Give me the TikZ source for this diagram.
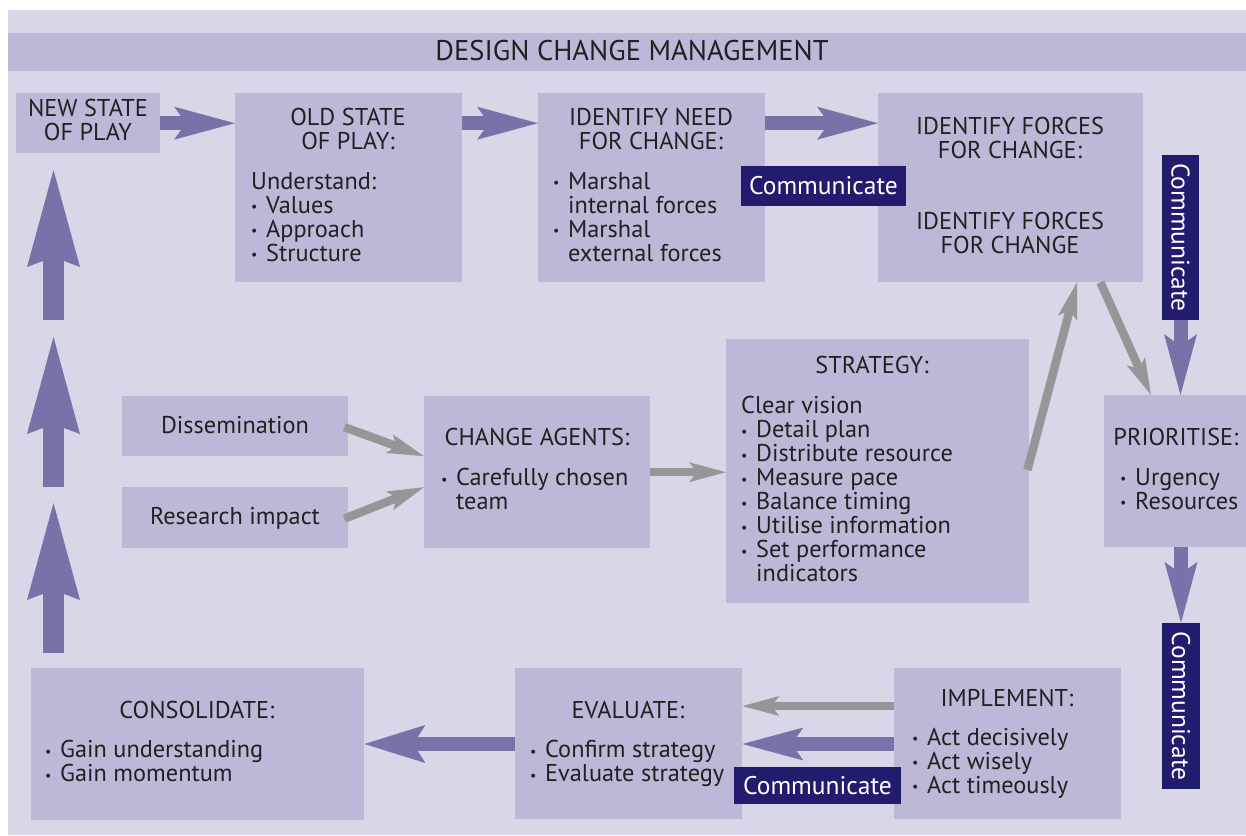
\documentclass[tikz,border=0pt]{standalone}
\usepackage{fontspec}
\setmainfont{PT Sans}
\usetikzlibrary{arrows.meta,calc}
\definecolor{bgc}{HTML}{D8D7E8}
\definecolor{boxc}{HTML}{BCB9D8}
\definecolor{purp}{HTML}{7773A9}
\definecolor{greyc}{HTML}{959698}
\definecolor{navy}{HTML}{221C6E}
\definecolor{txtc}{HTML}{231F20}
\newcommand\bul{\makebox[15pt][l]{\fontsize{14}{14}\selectfont\raisebox{1.5pt}{•}}}
\newcommand\hind{\makebox[15pt]{}}
\newcommand\topst{\rule{0pt}{18pt}}
\begin{document}
\begin{tikzpicture}[x=1pt,y=-1pt,
  box/.style={fill=boxc, draw=none, inner sep=0pt, anchor=north west},
  txt/.style={inner sep=0pt, text=txtc, font=\fontsize{24.3}{24}\selectfont, execute at begin node=\topst},
  head/.style={txt, anchor=north, align=center},
  body/.style={txt, anchor=north west, align=left},
  comm/.style={fill=navy, text=white, inner sep=0pt, font=\fontsize{25.5}{25.5}\selectfont},
  parrow/.style={draw=purp, line width=14pt, -{Stealth[length=61pt,width=33pt,inset=12pt,line width=0pt]}},
  parrowb/.style={draw=purp, line width=14pt, -{Stealth[length=61pt,width=38pt,inset=12pt,line width=0pt]}},
  bigarrow/.style={draw=purp, line width=21pt, -{Stealth[length=97pt,width=53pt,inset=10pt,line width=0pt]}},
  garrow/.style={draw=greyc, line width=8.5pt, -{Stealth[length=37pt,width=20pt,inset=8pt,line width=0pt]}}
]
\useasboundingbox (0,0) rectangle (1246,835);
\fill[bgc] (8,10) rectangle (1246,835);

% title band
\node[box, minimum width=1238pt, minimum height=38pt] (band) at (8,33) {};
\node[inner sep=0pt, text=txtc, font=\fontsize{28.5}{28.5}\selectfont] (title) at (632,51) {DESIGN CHANGE MANAGEMENT};

% boxes
\node[box, minimum width=144pt, minimum height=60pt]  (new)    at (16,93)   {};
\node[box, minimum width=227pt, minimum height=189pt] (old)    at (235,93)  {};
\node[box, minimum width=227pt, minimum height=189pt] (need)   at (538,93)  {};
\node[box, minimum width=265pt, minimum height=189pt] (forces) at (878,93)  {};
\node[box, minimum width=226pt, minimum height=60pt]  (diss)   at (122,396) {};
\node[box, minimum width=226pt, minimum height=61pt]  (res)    at (122,487) {};
\node[box, minimum width=226pt, minimum height=152pt] (ca)     at (424,396) {};
\node[box, minimum width=303pt, minimum height=264pt] (strat)  at (726,339) {};
\node[box, minimum width=142pt, minimum height=152pt] (prio)   at (1104,395) {};
\node[box, minimum width=333pt, minimum height=152pt] (consol) at (31,668)  {};
\node[box, minimum width=227pt, minimum height=151pt] (eval)   at (515,668) {};
\node[box, minimum width=227pt, minimum height=151pt] (impl)   at (894,668) {};

% texts
\node[head] (tnew) at (88,99) {NEW STATE\\OF PLAY};
\node[head] (told) at (348,108) {OLD STATE\\OF PLAY:};
\node[body] (bold) at (251,172) {Understand:\\\bul Values\\\bul Approach\\\bul Structure};
\node[head] (tneed) at (651,108) {IDENTIFY NEED\\FOR CHANGE:};
\node[body] (bneed) at (553,172) {\bul Marshal\\\hind internal forces\\\bul Marshal\\\hind external forces};
\node[head] (tfor1) at (1010,117) {IDENTIFY FORCES\\FOR CHANGE:};
\node[head] (tfor2) at (1010,212) {IDENTIFY FORCES\\FOR CHANGE};
\node[head] (tstrat) at (872,355) {STRATEGY:};
\node[body] (bstrat) at (741,396) {Clear vision\\\bul Detail plan\\\bul Distribute resource\\\bul Measure pace\\\bul Balance timing\\\bul Utilise information\\\bul Set performance\\\hind indicators};
\node[head] (tca) at (537,427) {CHANGE AGENTS:};
\node[body] (bca) at (441,468) {\bul Carefully chosen\\\hind team};
\node[head] (tdiss) at (235,415) {Dissemination};
\node[head] (tres) at (235,506) {Research impact};
\node[head] (tprio) at (1176,427) {PRIORITISE:};
\node[body] (bprio) at (1120,468) {\bul Urgency\\\bul Resources};
\node[head] (tcons) at (197,700) {CONSOLIDATE:};
\node[body] (bcons) at (45,740) {\bul Gain understanding\\\bul Gain momentum};
\node[head] (teval) at (628,700) {EVALUATE:};
\node[body] (beval) at (530,740) {\bul Confirm strategy\\\bul Evaluate strategy};
\node[head] (timpl) at (1007,688) {IMPLEMENT:};
\node[body] (bimpl) at (912,728) {\bul Act decisively\\\bul Act wisely\\\bul Act timeously};

% connectors
\draw[parrow] (new.east) -- (new.east -| old.west);
\draw[parrow] (old.east |- new.east) -- (need.west |- new.east);
\draw[parrow] (need.east |- new.east) -- (forces.west |- new.east);

\draw[garrow] ($(diss.east)+(-4,1)$) -- ($(ca.west)+(0,-16)$);
\draw[garrow] ($(res.east)+(-4,1)$) -- ($(ca.west)+(0,15)$);
\draw[garrow] (ca.east) -- (ca.east -| strat.west);
\draw[garrow] ($(strat.north east)+(-2,131)$) -- ($(forces.south west)+(199,0)$);
\draw[garrow] ($(forces.south east)+(-43,0)$) -- ($(prio.north west)+(47,0)$);

\draw[garrow] ($(impl.north west)+(0,38)$) -- ($(eval.north east)+(0,38)$);
\draw[parrow] ($(impl.north west)+(0,76)$) -- ($(eval.north east)+(0,76)$);
\draw[parrowb] ($(eval.north west)+(0,76)$) -- ($(consol.north east)+(0,76)$);

% communicate labels
\node[comm, minimum width=165pt, minimum height=40pt] (c1) at (823.5,186) {Communicate};
\node[comm, minimum width=167pt, minimum height=37pt] (c4) at (817.5,785.5) {Communicate};
\node[comm, minimum width=165pt, minimum height=37pt, rotate=-90] (c2) at (1180.5,237.5) {Communicate};
\node[comm, minimum width=166pt, minimum height=38pt, rotate=-90] (c3) at (1181,706) {Communicate};

\draw[parrow] (c2.east) -- (c2.east |- prio.north);
\draw[parrow] (c3.west |- prio.south) -- (c3.west);

% left upward arrows
\coordinate (u1a) at (53.5,320); \coordinate (u1b) at (53.5,170);
\coordinate (u2a) at (53.5,487); \coordinate (u2b) at (53.5,337);
\coordinate (u3a) at (53.5,653); \coordinate (u3b) at (53.5,503);
\draw[bigarrow] (u1a) -- (u1b);
\draw[bigarrow] (u2a) -- (u2b);
\draw[bigarrow] (u3a) -- (u3b);
\end{tikzpicture}
\end{document}
